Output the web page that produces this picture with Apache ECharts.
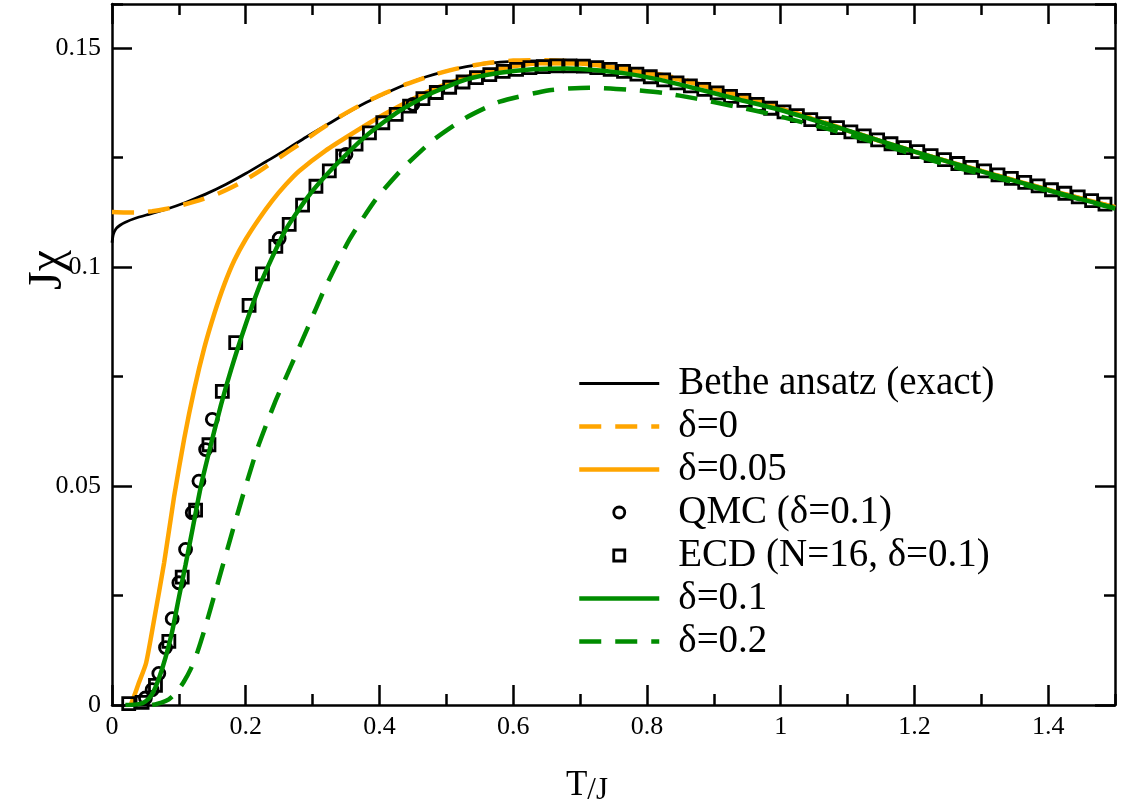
<!DOCTYPE html>
<html><head><meta charset="utf-8">
<script src="https://cdn.jsdelivr.net/npm/echarts@6/dist/echarts.min.js"></script>
<style>html,body{margin:0;padding:0;background:#fff}#c{width:1125px;height:810px}</style>
</head><body><div id="c"></div>
<script>
// ---- data (T/J, Jχ) ----
const betheAnsatz = [[0,0.1055],[0.002,0.1074],[0.006,0.1087],[0.012,0.1095],[0.02,0.1102],[0.035,0.1111],[0.055,0.1120],[0.08,0.1131],[0.11,0.1147],[0.14,0.1166],[0.17,0.1188],[0.2,0.1213],[0.23,0.1240],[0.26,0.1267],[0.29,0.1296],[0.32,0.1323],[0.35,0.1350],[0.38,0.1375],[0.41,0.1397],[0.44,0.1417],[0.47,0.1434],[0.50,0.1447],[0.53,0.1457],[0.56,0.1464],[0.60,0.1469],[0.64,0.1470],[0.68,0.1468],[0.72,0.1463],[0.76,0.1455],[0.80,0.1444],[0.85,0.1428],[0.90,0.1407],[0.95,0.1386],[1.0,0.1363],[1.1,0.1312],[1.2,0.1263],[1.3,0.1219],[1.4,0.1176],[1.5,0.1136]];
const delta0 = [[0,0.1125],[0.02,0.1124],[0.04,0.1124],[0.06,0.1127],[0.08,0.1132],[0.1,0.1139],[0.13,0.1152],[0.16,0.1168],[0.19,0.1190],[0.22,0.1218],[0.25,0.1249],[0.28,0.1280],[0.31,0.1312],[0.34,0.1342],[0.37,0.1368],[0.40,0.1391],[0.44,0.1417],[0.48,0.1438],[0.52,0.1454],[0.56,0.1465],[0.60,0.1471],[0.64,0.1472],[0.68,0.1470],[0.72,0.1465],[0.76,0.1456],[0.80,0.1445],[0.85,0.1429],[0.90,0.1408],[0.95,0.1386],[1.0,0.1363],[1.1,0.1312],[1.2,0.1263],[1.3,0.1219],[1.4,0.1176],[1.5,0.1136]];
const delta005 = [[0.028,0],[0.033,0.0020],[0.040,0.0050],[0.051,0.0096],[0.063,0.0195],[0.078,0.0325],[0.093,0.0477],[0.108,0.0608],[0.123,0.0720],[0.138,0.0815],[0.153,0.0893],[0.168,0.0960],[0.183,0.1015],[0.20,0.1063],[0.22,0.1110],[0.24,0.1152],[0.26,0.1188],[0.28,0.1219],[0.32,0.1266],[0.36,0.1305],[0.40,0.1342],[0.44,0.1375],[0.48,0.1405],[0.52,0.1428],[0.56,0.1446],[0.60,0.1458],[0.64,0.1465],[0.70,0.1464],[0.76,0.1453],[0.80,0.1442],[0.85,0.1427],[0.90,0.1407],[0.95,0.1386],[1.0,0.1362],[1.1,0.1311],[1.2,0.1263],[1.3,0.1219],[1.4,0.1176],[1.5,0.1136]];
const qmc01 = [[0.05,0.0016],[0.06,0.0035],[0.07,0.0072],[0.08,0.0131],[0.09,0.0197],[0.10,0.0279],[0.11,0.0355],[0.12,0.0439],[0.13,0.0511],[0.14,0.0583],[0.15,0.0652],[0.25,0.1065],[0.35,0.1257],[0.45,0.1371]];
const ecd16 = [[0.025,0.0003],[0.045,0.0006],[0.065,0.0045],[0.085,0.0145],[0.105,0.0292],[0.125,0.0445],[0.145,0.0594],[0.165,0.0716],[0.185,0.0827],[0.205,0.0912],[0.225,0.0984],[0.245,0.1047],[0.265,0.1097],[0.285,0.1141],[0.305,0.1184],[0.325,0.1219],[0.345,0.1253],[0.365,0.1280],[0.385,0.1306],[0.405,0.1329],[0.425,0.1348],[0.445,0.1367],[0.465,0.1384],[0.485,0.1398],[0.505,0.1410],[0.525,0.1422],[0.545,0.1432],[0.565,0.1439],[0.585,0.1446],[0.605,0.1451],[0.625,0.1455],[0.645,0.1457],[0.665,0.1459],[0.685,0.1459],[0.705,0.1458],[0.725,0.1455],[0.745,0.1451],[0.765,0.1446],[0.785,0.1440],[0.805,0.1434],[0.825,0.1427],[0.845,0.1420],[0.865,0.1413],[0.885,0.1405],[0.905,0.1397],[0.925,0.1389],[0.945,0.1380],[0.965,0.1371],[0.985,0.1362],[1.005,0.1354],[1.025,0.1345],[1.045,0.1336],[1.065,0.1327],[1.085,0.1318],[1.105,0.1308],[1.125,0.1299],[1.145,0.1290],[1.165,0.1281],[1.185,0.1272],[1.205,0.1263],[1.225,0.1254],[1.245,0.1245],[1.265,0.1236],[1.285,0.1227],[1.305,0.1219],[1.325,0.1210],[1.345,0.1202],[1.365,0.1193],[1.385,0.1185],[1.405,0.1176],[1.425,0.1168],[1.445,0.1160],[1.465,0.1151],[1.485,0.1143]];
const delta01 = [[0.02,0],[0.04,0.0002],[0.05,0.0008],[0.06,0.0025],[0.07,0.0060],[0.08,0.0108],[0.09,0.0168],[0.10,0.0245],[0.11,0.0320],[0.12,0.0398],[0.133,0.0500],[0.148,0.0595],[0.163,0.0685],[0.178,0.0765],[0.198,0.0860],[0.223,0.0965],[0.258,0.1080],[0.293,0.1160],[0.33,0.1225],[0.38,0.1299],[0.43,0.1356],[0.48,0.1398],[0.53,0.1428],[0.58,0.1443],[0.63,0.1451],[0.68,0.1453],[0.73,0.1448],[0.79,0.1436],[0.85,0.1416],[0.94,0.1381],[1.0,0.1358],[1.09,0.1316],[1.2,0.1263],[1.3,0.1218],[1.4,0.1175],[1.5,0.1134]];
const delta02 = [[0.06,0],[0.073,0.0005],[0.085,0.0013],[0.096,0.0028],[0.107,0.0052],[0.118,0.0083],[0.128,0.0122],[0.138,0.0170],[0.158,0.0277],[0.178,0.0385],[0.198,0.0490],[0.218,0.0588],[0.243,0.0688],[0.268,0.0775],[0.293,0.0862],[0.318,0.0950],[0.355,0.1062],[0.395,0.1155],[0.435,0.1225],[0.48,0.1289],[0.53,0.1341],[0.58,0.1377],[0.654,0.1403],[0.714,0.1409],[0.769,0.1405],[0.824,0.1397],[0.874,0.1384],[0.929,0.1367],[0.979,0.1351],[1.03,0.1331],[1.08,0.1311],[1.134,0.1287],[1.183,0.1264],[1.25,0.1232],[1.3,0.1212],[1.4,0.1173],[1.5,0.1133]];
const seriesNames = ['Bethe ansatz (exact)','δ=0','δ=0.05','QMC (δ=0.1)','ECD (N=16, δ=0.1)','δ=0.1','δ=0.2'];
const xAxisTitle = ['T','/J'];
const yAxisTitle = 'Jχ';

const FONT = 'Liberation Serif, Times New Roman, serif';
const ORANGE = '#ffa500', GREEN = '#008c00';

function axisPair(kind, pos, major, minor, withLabels) {
  const base = {type:'value', position:pos, min:0, max: kind==='x'?1.5:0.16,
    splitLine:{show:false}};
  const a = Object.assign({}, base, {interval:major,
    axisLine:{show:true,onZero:false,lineStyle:{color:'#000',width:2.5}},
    axisTick:{show:true,inside:true,length:20,lineStyle:{color:'#000',width:2.5}},
    axisLabel:{show:withLabels,showMaxLabel:false,color:'#000',fontFamily:FONT,fontSize:26,margin: kind==='x'?9:11}});
  const b = Object.assign({}, base, {interval:minor,
    axisLine:{show:false,onZero:false},
    axisTick:{show:true,inside:true,length:11,lineStyle:{color:'#000',width:2.5}},
    axisLabel:{show:false}});
  return [a,b];
}

const lineW = [2.8, 4.5, 4.5, 0, 0, 4.5, 4.5];
const isScatter = [false,false,false,true,true,false,false];
const legendData = seriesNames.map((n,i) => isScatter[i]
  ? (i===4 ? {name:n, icon:'path://M0,0L10,0L10,10L0,10Z', itemStyle:{borderWidth:2.8}} : {name:n, itemStyle:{borderWidth:2.8}})
  : {name:n, itemStyle:{opacity:0, color:'rgba(0,0,0,0)', borderWidth:0}, lineStyle:{width:lineW[i]}});

const chart = echarts.init(document.getElementById('c'), null, {renderer:'canvas'});
const lineBase = {type:'line', symbol:'none', smooth:0.2, animation:false, xAxisIndex:0, yAxisIndex:0};
const scatterStyle = {color:'rgba(0,0,0,0)', borderColor:'#000', borderWidth:2.8, opacity:1};
chart.setOption({
  animation:false,
  backgroundColor:'#fff',
  grid:{left:112, right:10, top:4, bottom:105, containLabel:false},
  xAxis:[...axisPair('x','bottom',0.2,0.1,true), ...axisPair('x','top',0.2,0.1,false)],
  yAxis:[...axisPair('y','left',0.05,0.025,true), ...axisPair('y','right',0.05,0.025,false)],
  legend:{
    orient:'vertical', left:577, top:364, padding:0, itemWidth:80, itemHeight:11, itemGap:4,
    data:legendData,
    textStyle:{fontFamily:FONT, fontSize:39, color:'#000', lineHeight:38.5, padding:[0,0,0,14]},
    selectedMode:false
  },
  graphic:[
    {type:'text', x:48, y:270, rotation:Math.PI/2, style:{text:yAxisTitle, fontFamily:FONT, fontSize:48, fill:'#000', align:'center', verticalAlign:'middle'}},
    {type:'text', x:587, y:786, style:{text:'{a|'+xAxisTitle[0]+'}{b|'+xAxisTitle[1]+'}', align:'center', verticalAlign:'middle', rich:{a:{fontFamily:FONT,fontSize:35,fill:'#000'}, b:{fontFamily:FONT,fontSize:31,fill:'#000', padding:[10,0,0,0]}}}}
  ],
  series:[
    Object.assign({}, lineBase, {name:seriesNames[0], data:betheAnsatz, lineStyle:{color:'#000',width:lineW[0]}, itemStyle:{color:'#000'}, z:2}),
    Object.assign({}, lineBase, {name:seriesNames[1], data:delta0, lineStyle:{color:ORANGE,width:lineW[1],type:[22,14]}, itemStyle:{color:ORANGE}, z:3}),
    Object.assign({}, lineBase, {name:seriesNames[2], data:delta005, lineStyle:{color:ORANGE,width:lineW[2]}, itemStyle:{color:ORANGE}, z:3}),
    {type:'scatter', name:seriesNames[3], data:qmc01, symbol:'circle', symbolSize:12, itemStyle:scatterStyle, z:4, animation:false},
    {type:'scatter', name:seriesNames[4], data:ecd16, symbol:'rect', symbolSize:12, itemStyle:scatterStyle, z:4, animation:false},
    Object.assign({}, lineBase, {name:seriesNames[5], data:delta01, lineStyle:{color:GREEN,width:lineW[5]}, itemStyle:{color:GREEN}, z:5}),
    Object.assign({}, lineBase, {name:seriesNames[6], data:delta02, lineStyle:{color:GREEN,width:lineW[6],type:[22,14]}, itemStyle:{color:GREEN}, z:5})
  ]
});
</script></body></html>
